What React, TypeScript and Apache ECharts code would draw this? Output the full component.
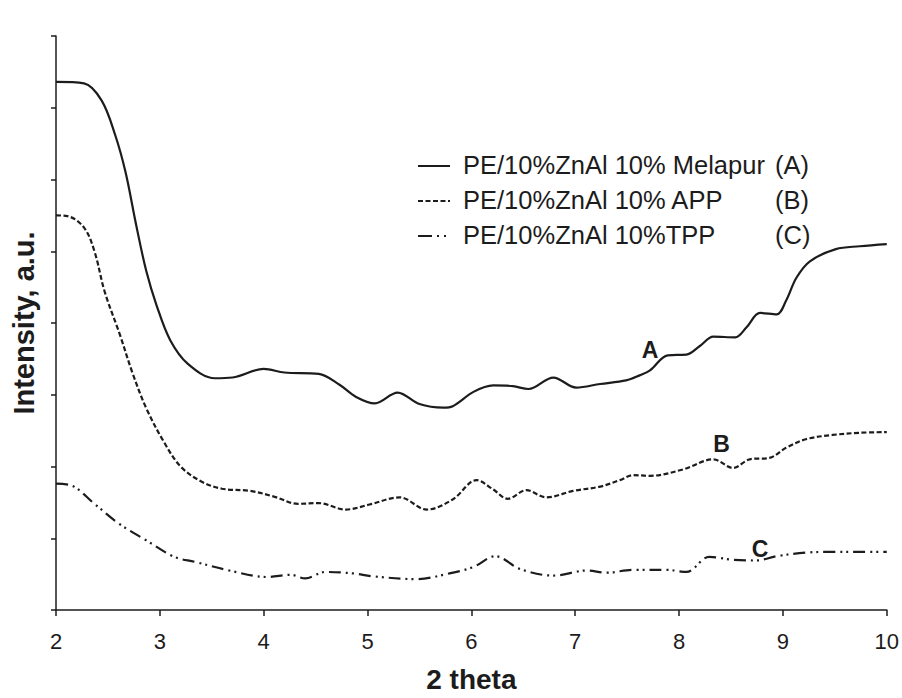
import React, { useEffect, useRef } from "react";
import * as echarts from "echarts";

const FONT = "'Liberation Sans', Arial, Helvetica, sans-serif";
const INK = "#1c1c1c";

const xTicks = [2, 3, 4, 5, 6, 7, 8, 9, 10];

const xA = [2.0, 2.27, 2.44, 2.57, 2.67, 2.77, 2.87, 2.97, 3.1, 3.27, 3.53, 3.7, 4.0, 4.2, 4.53, 4.73, 4.89, 5.07, 5.29, 5.5, 5.73, 5.82, 6.02, 6.21, 6.4, 6.55, 6.79, 7.01, 7.24, 7.49, 7.62, 7.72, 7.89, 8.07, 8.2, 8.33, 8.54, 8.65, 8.78, 8.94, 9.03, 9.13, 9.26, 9.51, 9.74, 10.0];
const yA = [7.36, 7.34, 7.1, 6.62, 6.1, 5.38, 4.72, 4.24, 3.76, 3.43, 3.23, 3.24, 3.36, 3.31, 3.29, 3.14, 2.97, 2.88, 3.03, 2.87, 2.82, 2.84, 3.04, 3.13, 3.12, 3.08, 3.24, 3.1, 3.15, 3.2, 3.27, 3.34, 3.55, 3.56, 3.68, 3.81, 3.8, 3.94, 4.14, 4.12, 4.31, 4.63, 4.86, 5.03, 5.07, 5.1];

const xB = [2.0, 2.11, 2.27, 2.37, 2.47, 2.61, 2.74, 2.87, 3.04, 3.2, 3.4, 3.6, 3.87, 4.1, 4.33, 4.53, 4.79, 5.02, 5.31, 5.57, 5.82, 6.05, 6.21, 6.35, 6.53, 6.72, 6.98, 7.24, 7.43, 7.56, 7.72, 8.04, 8.33, 8.52, 8.68, 8.87, 9.03, 9.22, 9.48, 9.74, 10.0];
const yB = [5.5, 5.49, 5.33, 5.0, 4.43, 3.86, 3.29, 2.81, 2.34, 2.0, 1.79, 1.69, 1.66, 1.58, 1.48, 1.49, 1.4, 1.47, 1.57, 1.4, 1.54, 1.81, 1.68, 1.55, 1.67, 1.57, 1.66, 1.72, 1.81, 1.88, 1.87, 1.96, 2.1, 1.98, 2.1, 2.12, 2.26, 2.38, 2.44, 2.47, 2.48];

const xC = [2.0, 2.14, 2.37, 2.61, 2.87, 3.14, 3.34, 3.67, 4.03, 4.26, 4.4, 4.59, 4.86, 5.05, 5.47, 5.79, 6.02, 6.23, 6.47, 6.79, 7.11, 7.3, 7.56, 7.88, 8.07, 8.29, 8.52, 8.74, 8.94, 9.22, 9.48, 9.74, 10.0];
const yC = [1.76, 1.74, 1.48, 1.2, 0.97, 0.74, 0.67, 0.55, 0.46, 0.49, 0.44, 0.53, 0.51, 0.47, 0.43, 0.51, 0.6, 0.75, 0.57, 0.48, 0.55, 0.52, 0.56, 0.56, 0.53, 0.74, 0.7, 0.69, 0.75, 0.8, 0.81, 0.81, 0.81];

const seriesNames = [
  "PE/10%ZnAl 10% Melapur",
  "PE/10%ZnAl 10% APP",
  "PE/10%ZnAl 10%TPP",
];
const seriesTags = ["(A)", "(B)", "(C)"];
const curveLetters = ["A", "B", "C"];
const letterCoords: [number, number][] = [
  [7.72, 3.62],
  [8.41, 2.31],
  [8.78, 0.85],
];

const dashB = [5, 2.5];
const dashC = [12, 5, 2, 4, 2, 5];

function zip(xs: number[], ys: number[]) {
  return xs.map((x, i) => [x, ys[i]]);
}

export default function App() {
  const ref = useRef<HTMLDivElement>(null);
  useEffect(() => {
    if (!ref.current) return;
    const chart = echarts.init(ref.current, undefined, { renderer: "svg" });
    const dashes: any[] = ["solid", dashB, dashC];
    const datasets = [zip(xA, yA), zip(xB, yB), zip(xC, yC)];
    const series = datasets.map((d, i) => ({
      name: seriesNames[i],
      type: "line",
      data: d,
      smooth: 0.35,
      symbol: "none",
      lineStyle: { color: INK, width: 2.2, type: dashes[i] },
      markPoint: {
        symbol: "circle",
        symbolSize: 1,
        itemStyle: { color: "rgba(0,0,0,0)" },
        label: {
          show: true,
          position: "inside",
          formatter: curveLetters[i],
          color: INK,
          fontFamily: FONT,
          fontWeight: "bold",
          fontSize: 23,
        },
        data: [{ coord: letterCoords[i] }],
      },
    }));

    const legendRowsY = [165, 200, 235];
    const legendEls: any[] = [];
    legendRowsY.forEach((y, i) => {
      legendEls.push({
        type: "line",
        shape: { x1: 418, y1: y + 1, x2: 450, y2: y + 1 },
        style: {
          stroke: INK,
          lineWidth: 2,
          lineDash: i === 0 ? null : i === 1 ? dashB : [14, 5, 2, 5, 2, 5],
        },
      });
      legendEls.push({
        type: "text",
        x: 463,
        y: y,
        style: {
          text: seriesNames[i],
          fill: INK,
          font: `25.5px ${FONT}`,
          textVerticalAlign: "middle",
          verticalAlign: "middle",
        },
      });
      legendEls.push({
        type: "text",
        x: 775,
        y: y,
        style: {
          text: seriesTags[i],
          fill: INK,
          font: `25.5px ${FONT}`,
          textVerticalAlign: "middle",
          verticalAlign: "middle",
        },
      });
    });

    chart.setOption({
      animation: false,
      backgroundColor: "#ffffff",
      grid: { left: 56, right: 15, top: 36, bottom: 83, containLabel: false },
      xAxis: {
        type: "value",
        min: xTicks[0],
        max: xTicks[xTicks.length - 1],
        interval: 1,
        name: "2 theta",
        nameLocation: "middle",
        nameGap: 55,
        nameTextStyle: { fontFamily: FONT, fontWeight: "bold", fontSize: 28, color: INK },
        axisLine: { show: true, lineStyle: { color: INK, width: 1.5 } },
        axisTick: { show: true, length: 6, lineStyle: { color: INK, width: 1.5 } },
        axisLabel: { fontFamily: FONT, fontSize: 22, color: INK, margin: 20 },
        splitLine: { show: false },
      },
      yAxis: {
        type: "value",
        min: 0,
        max: 8,
        interval: 1,
        name: "Intensity, a.u.",
        nameLocation: "middle",
        nameGap: 18,
        nameTextStyle: { fontFamily: FONT, fontWeight: "bold", fontSize: 29, color: INK },
        axisLine: { show: true, lineStyle: { color: INK, width: 1.5 } },
        axisTick: { show: true, length: 5, lineStyle: { color: INK, width: 1.5 } },
        axisLabel: { show: false },
        splitLine: { show: false },
      },
      series,
      graphic: legendEls,
    });
    return () => chart.dispose();
  }, []);
  return (
    <div
      ref={ref}
      style={{ position: "fixed", left: 0, top: 0, width: 902, height: 698, background: "#fff" }}
    />
  );
}
